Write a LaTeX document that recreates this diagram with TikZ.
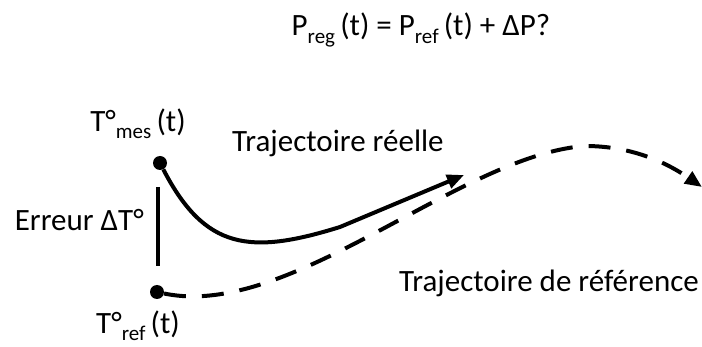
\documentclass[tikz,border=0pt]{standalone}
\usepackage{fontspec}
\setmainfont{Carlito}
\usetikzlibrary{arrows.meta}

\newcommand{\lowsub}[1]{\raisebox{-0.5ex}{\fontsize{21}{21}\selectfont #1}\,}

\begin{document}
\begin{tikzpicture}[x=1pt, y=-1pt, >={Triangle[length=17pt, width=14pt]},
  every node/.style={font=\fontsize{31}{34}\selectfont, inner sep=0pt},
  dot/.style={circle, fill=black, minimum size=14pt},
  traj/.style={line width=4pt},
  refdash/.style={traj, dash pattern=on 22pt off 16pt}]
\useasboundingbox (0,0) rectangle (702,347);
% formula
\node (eq) at (421,30) {P\lowsub{reg}(t) = P\lowsub{ref}(t) + ∆P?};
% points
\node[dot] (mes) at (160,163) {};
\node[dot] (ref) at (157,292) {};
\node (lmes) at (138,124) {T°\lowsub{mes}(t)};
\node (lref) at (138,326) {T°\lowsub{ref}(t)};
% error
\coordinate (etop) at (158,187);
\coordinate (ebot) at (158,266);
\draw[line width=4pt] (etop) -- (ebot);
\node[anchor=east] (err) at (144,220) {Erreur ∆T°};
% trajectories
\coordinate (tipr) at (464,175);
\coordinate (tipf) at (702,187);
\draw[traj, ->] (mes) .. controls (205,250) and (250,255) .. (340,227) -- (tipr);
\draw[refdash, ->] (ref) .. controls (290,320) and (460,155) .. (585,146)
  .. controls (635,146) and (670,165) .. (tipf);
\node[anchor=west] (lreel) at (232,143) {Trajectoire réelle};
\node[anchor=west] (lrefr) at (399,283) {Trajectoire de référence};
\end{tikzpicture}
\end{document}
